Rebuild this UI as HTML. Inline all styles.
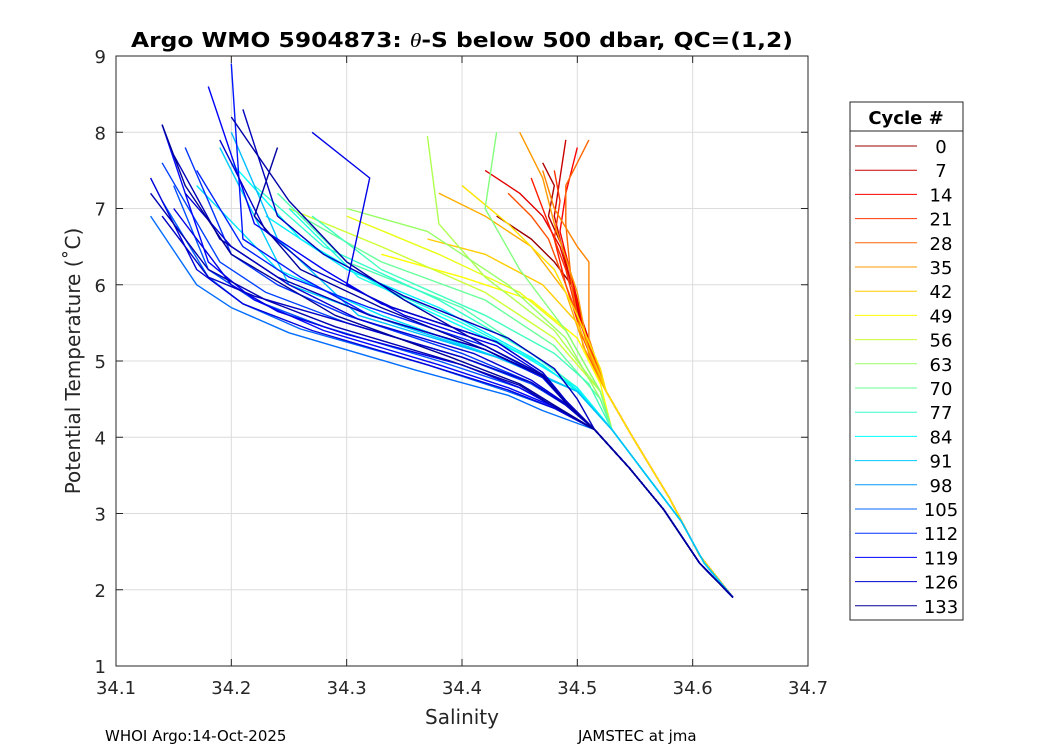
<!DOCTYPE html>
<html><head><meta charset="utf-8">
<style>
body{margin:0;background:#fff;}
svg{display:block;font-family:"DejaVu Sans","Liberation Sans",sans-serif;}
</style></head>
<body>
<svg id="chart" width="1050" height="750" viewBox="0 0 1050 750">
  <rect x="0" y="0" width="1050" height="750" fill="#fff"/>
  <g id="grid"></g>
  <g id="lines"></g>
  <rect x="116" y="56" width="692" height="610" fill="none" stroke="#262626" stroke-width="1"/>
  <g id="ticks"></g>
  <text x="131" y="47" font-size="20" font-weight="bold" fill="#000" textLength="662" lengthAdjust="spacingAndGlyphs">Argo WMO 5904873: <tspan font-style="italic" font-weight="normal" font-family="Liberation Serif,serif">θ</tspan>-S below 500 dbar,  QC=(1,2)</text>
  <text x="462" y="724" text-anchor="middle" font-size="20" fill="#262626">Salinity</text>
  <text transform="translate(80,361) rotate(-90)" text-anchor="middle" font-size="20" fill="#262626">Potential Temperature (˚C)</text>
  <text x="105" y="741" font-size="15" fill="#000">WHOI Argo:14-Oct-2025</text>
  <text x="578" y="741" font-size="15" fill="#000">JAMSTEC at jma</text>
  <g id="legend">
    <rect x="850" y="102" width="113" height="518" fill="#fff" stroke="#262626" stroke-width="1"/>
    <line x1="850" y1="131" x2="963" y2="131" stroke="#262626" stroke-width="1"/>
    <text x="906" y="124" text-anchor="middle" font-size="18" font-weight="bold" fill="#000">Cycle #</text>
  </g>
</svg>
<script>
const xTicks = [34.1,34.2,34.3,34.4,34.5,34.6,34.7];
const yTicks = [1,2,3,4,5,6,7,8,9];
const legendCycles = [0,7,14,21,28,35,42,49,56,63,70,77,84,91,98,105,112,119,126,133];
const maxCycle = 133;
const cycles = [0,3,7,10,14,18,21,25,28,32,35,38,42,45,
 49,52,56,60,63,66,70,
 73,75,77,80,84,86,88,91,93,
 104,106,108,110,112,114,116,118,120,122,123,124,125,126,127,128,129,130,
 131,132,133];
const salUpper = [
 [34.43,34.46,34.48,34.495,34.498,34.505],
 [34.47,34.48,34.475,34.49,34.505],
 [34.49,34.485,34.48,34.49,34.505],
 [34.42,34.45,34.47,34.485,34.505],
 [34.5,34.49,34.485,34.495,34.51],
 [34.46,34.47,34.48,34.49,34.505],
 [34.48,34.485,34.48,34.49,34.5],
 [34.44,34.46,34.475,34.49,34.5],
 [34.51,34.49,34.49,34.495,34.505],
 [34.47,34.48,34.5,34.51,34.51],
 [34.45,34.47,34.48,34.5,34.51],
 [34.38,34.42,34.46,34.49,34.51],
 [34.37,34.42,34.47,34.5,34.52],
 [34.4,34.44,34.48,34.5,34.52],
 [34.33,34.4,34.46,34.5,34.52],
 [34.3,34.38,34.45,34.49,34.52],
 [34.25,34.33,34.42,34.48,34.52],
 [34.37,34.38,34.42,34.48,34.52],
 [34.3,34.37,34.44,34.49,34.52],
 [34.43,34.42,34.45,34.49,34.52],
 [34.26,34.33,34.42,34.48,34.52],
 [34.24,34.3,34.4,34.47,34.5],
 [34.27,34.33,34.42,34.48,34.51],
 [34.22,34.28,34.38,34.46,34.5],
 [34.25,34.31,34.4,34.47,34.5],
 [34.2,34.26,34.35,34.45,34.5],
 [34.23,34.3,34.38,34.46,34.5],
 [34.17,34.24,34.33,34.44,34.5],
 [34.19,34.25,34.34,34.45,34.5],
 [34.2,34.24,34.31,34.43,34.5],
 [34.13,34.17,34.2,34.25,34.36,34.44,34.47],
 [34.14,34.18,34.21,34.26,34.37,34.44,34.48],
 [34.15,34.18,34.22,34.28,34.38,34.45,34.48],
 [34.14,34.19,34.23,34.3,34.4,34.46,34.49],
 [34.16,34.2,34.24,34.3,34.4,34.46,34.49],
 [34.17,34.21,34.25,34.32,34.42,34.47,34.49],
 [34.2,34.21,34.26,34.32,34.42,34.47,34.49],
 [34.14,34.18,34.22,34.28,34.38,34.44,34.48],
 [34.18,34.22,34.28,34.33,34.43,34.47,34.49],
 [34.27,34.32,34.3,34.35,34.43,34.47,34.49],
 [34.15,34.2,34.24,34.3,34.4,34.45,34.48],
 [34.13,34.17,34.21,34.27,34.37,34.44,34.48],
 [34.16,34.2,34.25,34.31,34.41,34.46,34.49],
 [34.19,34.23,34.27,34.34,34.43,34.47,34.49],
 [34.14,34.18,34.22,34.3,34.4,34.46,34.49],
 [34.21,34.24,34.28,34.35,34.44,34.48,34.5],
 [34.15,34.19,34.24,34.32,34.42,34.47,34.49],
 [34.13,34.18,34.23,34.29,34.39,34.45,34.48],
 [34.2,34.25,34.3,34.35,34.42,34.47,34.49],
 [34.24,34.22,34.26,34.33,34.42,34.47,34.49],
 [34.14,34.16,34.2,34.29,34.39,34.45,34.48]
];
const tempUpper = [
 [6.9,6.6,6.3,6.0,5.8,5.4],
 [7.6,7.3,6.9,6.4,5.5],
 [7.9,7.4,6.9,6.3,5.4],
 [7.5,7.2,6.9,6.5,5.5],
 [7.8,7.2,6.7,6.1,5.1],
 [7.4,7.0,6.6,6.0,5.3],
 [7.5,7.1,6.6,6.2,5.6],
 [7.2,6.9,6.6,6.0,5.6],
 [7.9,7.3,6.8,6.0,5.2],
 [7.5,7.0,6.5,6.3,5.3],
 [8.0,7.4,6.8,5.9,5.1],
 [7.2,6.9,6.5,5.9,5.0],
 [6.6,6.4,6.0,5.5,4.8],
 [7.3,6.8,6.2,5.6,4.9],
 [6.4,6.1,5.8,5.3,4.7],
 [6.9,6.4,5.9,5.4,4.6],
 [7.0,6.5,5.9,5.3,4.6],
 [7.95,6.8,6.1,5.4,4.6],
 [7.0,6.7,6.0,5.3,4.5],
 [8.0,7.0,6.2,5.4,4.6],
 [6.9,6.3,5.8,5.2,4.5],
 [7.2,6.3,5.7,5.0,4.65],
 [6.9,6.2,5.6,5.1,4.7],
 [7.3,6.5,5.8,5.1,4.65],
 [7.0,6.1,5.5,4.95,4.6],
 [7.6,6.6,5.8,5.1,4.65],
 [6.9,6.2,5.7,5.05,4.62],
 [7.3,6.2,5.6,5.0,4.6],
 [7.8,6.0,5.5,4.95,4.6],
 [8.0,6.6,5.6,5.05,4.6],
 [6.9,6.0,5.7,5.37,4.88,4.55,4.35],
 [7.1,6.1,5.75,5.42,4.95,4.6,4.38],
 [7.3,6.2,5.8,5.45,5.0,4.65,4.4],
 [7.6,6.3,5.9,5.5,5.05,4.7,4.42],
 [7.8,6.4,6.0,5.6,5.1,4.72,4.44],
 [7.5,6.5,6.1,5.7,5.2,4.8,4.46],
 [8.9,6.6,6.1,5.6,5.15,4.78,4.45],
 [8.1,6.3,5.8,5.4,4.95,4.65,4.4],
 [8.6,6.8,6.2,5.75,5.25,4.85,4.48],
 [8.0,7.4,6.0,5.6,5.2,4.82,4.46],
 [7.0,6.0,5.65,5.35,4.95,4.65,4.4],
 [7.4,6.2,5.75,5.4,4.95,4.62,4.38],
 [7.2,6.5,6.0,5.55,5.1,4.75,4.44],
 [7.9,6.7,6.2,5.7,5.25,4.85,4.48],
 [6.9,6.1,5.85,5.5,5.05,4.72,4.42],
 [8.3,6.9,6.4,5.85,5.3,4.9,4.5],
 [7.7,6.6,6.1,5.6,5.15,4.8,4.45],
 [7.2,6.2,5.8,5.45,5.0,4.68,4.4],
 [8.2,7.1,6.3,5.8,5.2,4.82,4.46],
 [7.8,6.9,6.2,5.7,5.15,4.8,4.45],
 [8.1,7.3,6.4,5.6,5.05,4.7,4.42]
];
const warmTailS = [34.525,34.548,34.58,34.606,34.635];
const warmTailT = [4.6,4.0,3.2,2.45,1.9];
const midTailS = [34.53,34.56,34.59,34.61,34.635];
const midTailT = [4.1,3.5,2.9,2.35,1.9];
const coolTailS = [34.515,34.545,34.575,34.606,34.635];
const coolTailT = [4.1,3.6,3.05,2.35,1.9];

const X0=116,X1=808,Y0=666,Y1=56;
function xs(s){return X0+(s-34.1)/(34.7-34.1)*(X1-X0);}
function ys(t){return Y0-(t-1)/(9-1)*(Y0-Y1);}
function clamp(v){return Math.max(0,Math.min(1,v));}
function jet(c){
  const t=0.975-0.95*c/maxCycle;
  const r=clamp(1.5-Math.abs(4*t-3)),g=clamp(1.5-Math.abs(4*t-2)),b=clamp(1.5-Math.abs(4*t-1));
  return 'rgb('+Math.round(r*255)+','+Math.round(g*255)+','+Math.round(b*255)+')';
}
const NS='http://www.w3.org/2000/svg';
const grid=document.getElementById('grid'),ticks=document.getElementById('ticks'),lines=document.getElementById('lines'),legend=document.getElementById('legend');
function mk(tag,attrs,parent){const e=document.createElementNS(NS,tag);for(const k in attrs)e.setAttribute(k,attrs[k]);parent.appendChild(e);return e;}
xTicks.forEach(v=>{
  const x=xs(v);
  const g=mk('line',{x1:x,x2:x,y1:Y1,y2:Y0,stroke:'#dcdcdc','stroke-width':1},grid);
  
  
  mk('line',{x1:x,x2:x,y1:Y0,y2:Y0-7,stroke:'#262626'},ticks);
  mk('line',{x1:x,x2:x,y1:Y1,y2:Y1+7,stroke:'#262626'},ticks);
  const t=mk('text',{x:x,y:Y0+28,'text-anchor':'middle','font-size':18,fill:'#262626'},ticks);
  t.textContent=v.toFixed(1);
  
  
});
yTicks.forEach(v=>{
  const y=ys(v);
  const g=mk('line',{x1:X0,x2:X1,y1:y,y2:y,stroke:'#dcdcdc','stroke-width':1},grid);
  
  
  mk('line',{x1:X0,x2:X0+7,y1:y,y2:y,stroke:'#262626'},ticks);
  mk('line',{x1:X1,x2:X1-7,y1:y,y2:y,stroke:'#262626'},ticks);
  const t=mk('text',{x:X0-10,y:y+7,'text-anchor':'end','font-size':18,fill:'#262626'},ticks);
  t.textContent=v;
  
  
});
cycles.forEach((c,i)=>{
  let tS=coolTailS,tT=coolTailT;
  if(c<49){tS=warmTailS;tT=warmTailT;}
  else if(c<100){tS=midTailS;tT=midTailT;}
  const S=salUpper[i].concat(tS);
  const T=tempUpper[i].concat(tT);
  const pts=S.map((s,j)=>xs(s).toFixed(1)+','+ys(T[j]).toFixed(1)).join(' ');
  const p=mk('polyline',{points:pts,fill:'none',stroke:jet(c),'stroke-width':1.4,'stroke-linejoin':'round'},lines);
  
  
});
legendCycles.forEach((c,i)=>{
  const y=146+i*24.2;
  const l=mk('line',{x1:855,x2:917,y1:y,y2:y,stroke:jet(c),'stroke-width':1},legend);
  
  
  const t=mk('text',{x:941,y:y+7,'text-anchor':'middle','font-size':18,fill:'#000'},legend);
  t.textContent=c;
  
  
});
</script>
</body></html>
